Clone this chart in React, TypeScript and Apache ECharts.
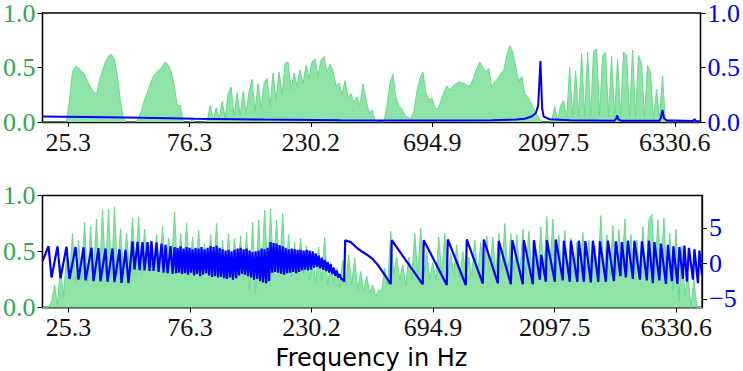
import React, { useEffect, useRef } from "react";
import * as echarts from "echarts";

// x ticks (Hz) and their labels
const tickHz = [25.3, 76.3, 230.2, 694.9, 2097.5, 6330.6];
const tickLabels = ["25.3", "76.3", "230.2", "694.9", "2097.5", "6330.6"];
const xMinHz = 20;
const xMaxHz = 8000;

// frequency grid (Hz) shared by both magnitude spectra
const gridHz = [
  20.0, 20.55, 21.12, 21.71, 22.31, 22.92, 23.55, 24.2, 24.87, 25.56,
  26.27, 27.0, 27.74, 28.51, 29.3, 30.11, 30.94, 31.79, 32.67, 33.57,
  34.5, 35.45, 36.43, 37.44, 38.47, 39.53, 40.62, 41.75, 42.9, 44.08,
  45.3, 46.57, 47.86, 49.18, 50.54, 51.94, 53.37, 54.85, 56.36, 57.92,
  59.52, 61.18, 62.87, 64.61, 66.39, 68.23, 70.11, 72.05, 74.04, 76.09,
  78.19, 80.35, 82.57, 84.85, 87.2, 89.61, 92.08, 94.63, 97.24, 99.93,
  102.7, 105.5, 108.4, 111.4, 114.5, 117.7, 120.9, 124.3, 127.7, 131.2,
  134.8, 138.6, 142.4, 146.4, 150.4, 154.6, 158.8, 163.2, 167.7, 172.4,
  177.2, 182.1, 187.1, 192.3, 197.6, 203.0, 208.6, 214.4, 220.3, 226.4,
  232.7, 239.2, 245.8, 252.6, 259.6, 266.8, 274.2, 281.8, 289.6, 297.6,
  305.8, 314.2, 322.9, 331.8, 341.0, 350.4, 360.1, 370.0, 380.3, 390.8,
  401.6, 412.8, 424.2, 435.9, 448.0, 460.4, 473.1, 486.2, 499.6, 513.4,
  527.6, 542.3, 557.3, 572.7, 588.5, 604.8, 621.5, 638.7, 656.3, 674.4,
  693.1, 712.3, 732.0, 752.2, 773.0, 794.4, 816.3, 838.9, 862.1, 885.9,
  910.4, 935.4, 961.3, 987.9, 1015, 1043, 1072, 1102, 1132, 1163,
  1196, 1229, 1263, 1298, 1334, 1371, 1409, 1448, 1488, 1529,
  1571, 1614, 1659, 1705, 1752, 1800, 1850, 1901, 1954, 2008,
  2063, 2120, 2179, 2239, 2301, 2364, 2430, 2497, 2566, 2637,
  2710, 2785, 2862, 2941, 3022, 3106, 3192, 3280, 3371, 3464,
  3560, 3658, 3759, 3863, 3970, 4080, 4193, 4309, 4428, 4550,
  4676, 4805, 4938, 5075, 5215, 5359, 5507, 5659, 5816, 5977,
  6142, 6312, 6486, 6665, 6850, 7039, 7234, 7434, 7639, 7850, 8000,
];

// top panel: magnitude (left axis)
const topMagnitude = [
  0, 0, 0, 0, 0, 0, 0, 0, 0, 0.2,
  0.46, 0.51, 0.5, 0.46, 0.44, 0.37, 0.32, 0.28, 0.25, 0.38,
  0.47, 0.55, 0.6, 0.62, 0.57, 0.42, 0.2, 0.03, 0, 0,
  0, 0, 0.03, 0.1, 0.2, 0.27, 0.35, 0.42, 0.45, 0.48,
  0.51, 0.55, 0.52, 0.46, 0.33, 0.15, 0.15, 0, 0, 0,
  0.02, 0, 0, 0, 0, 0.01, 0.15, 0.02, 0.13, 0.03,
  0.19, 0.04, 0.26, 0.32, 0.05, 0.27, 0.06, 0.28, 0.08, 0.28,
  0.39, 0.1, 0.35, 0.12, 0.36, 0.4, 0.15, 0.45, 0.2, 0.46,
  0.25, 0.54, 0.55, 0.3, 0.45, 0.33, 0.48, 0.35, 0.52, 0.4,
  0.55, 0.58, 0.42, 0.57, 0.6, 0.45, 0.53, 0.47, 0.33, 0.36,
  0.25, 0.38, 0.22, 0.26, 0.18, 0.23, 0.15, 0.35, 0.21, 0.08,
  0.11, 0.02, 0, 0, 0, 0.15, 0.35, 0.44, 0.22, 0.15,
  0.12, 0.06, 0.04, 0.03, 0.1, 0.28, 0.4, 0.46, 0.27, 0.2,
  0.22, 0.13, 0.12, 0.19, 0.27, 0.33, 0.29, 0.33, 0.35, 0.37,
  0.36, 0.35, 0.33, 0.34, 0.41, 0.49, 0.55, 0.5, 0.46, 0.49,
  0.32, 0.37, 0.4, 0.44, 0.48, 0.61, 0.7, 0.64, 0.5, 0.37,
  0.42, 0.26, 0.23, 0.18, 0.12, 0.07, 0.02, 0, 0, 0,
  0.01, 0.14, 0.02, 0.15, 0.2, 0.03, 0.5, 0.05, 0.47, 0.05,
  0.63, 0.06, 0.64, 0.06, 0.65, 0.67, 0.06, 0.61, 0.64, 0.05,
  0.6, 0.05, 0.58, 0.06, 0.64, 0.61, 0.05, 0.66, 0.05, 0.61,
  0.53, 0.04, 0.52, 0.45, 0.03, 0.3, 0.03, 0.42, 0, 0,
  0, 0, 0, 0, 0, 0, 0, 0, 0, 0, 0,
];

// bottom panel: magnitude (left axis)
const bottomMagnitude = [
  0, 0, 0, 0.05, 0.2, 0.02, 0.38, 0.1, 0.45, 0.25,
  0.66, 0.22, 0.6, 0.25, 0.76, 0.23, 0.72, 0.3, 0.79, 0.26,
  0.87, 0.3, 0.88, 0.28, 0.9, 0.3, 0.7, 0.32, 0.66, 0.34,
  0.8, 0.35, 0.81, 0.3, 0.7, 0.38, 0.6, 0.33, 0.65, 0.36,
  0.72, 0.35, 0.62, 0.4, 0.85, 0.3, 0.66, 0.35, 0.75, 0.32,
  0.63, 0.3, 0.69, 0.36, 0.57, 0.3, 0.65, 0.34, 0.75, 0.32,
  0.6, 0.28, 0.66, 0.3, 0.62, 0.28, 0.64, 0.25, 0.67, 0.15,
  0.76, 0.12, 0.78, 0.3, 0.87, 0.35, 0.88, 0.3, 0.78, 0.32,
  0.84, 0.3, 0.65, 0.28, 0.58, 0.3, 0.62, 0.3, 0.55, 0.25,
  0.45, 0.22, 0.54, 0.24, 0.63, 0.2, 0.4, 0.22, 0.35, 0.18,
  0.42, 0.2, 0.47, 0.2, 0.44, 0.16, 0.32, 0.15, 0.28, 0.13,
  0.2, 0.1, 0.16, 0.14, 0.35, 0.2, 0.68, 0.3, 0.45, 0.25,
  0.38, 0.2, 0.45, 0.25, 0.66, 0.3, 0.71, 0.28, 0.5, 0.25,
  0.4, 0.25, 0.63, 0.3, 0.66, 0.28, 0.48, 0.3, 0.56, 0.27,
  0.5, 0.3, 0.45, 0.28, 0.6, 0.3, 0.58, 0.3, 0.64, 0.32,
  0.63, 0.3, 0.66, 0.33, 0.75, 0.3, 0.66, 0.32, 0.65, 0.3,
  0.7, 0.3, 0.68, 0.32, 0.6, 0.3, 0.72, 0.3, 0.81, 0.32,
  0.79, 0.3, 0.65, 0.28, 0.69, 0.3, 0.62, 0.28, 0.58, 0.3,
  0.67, 0.3, 0.6, 0.27, 0.55, 0.3, 0.82, 0.3, 0.65, 0.28,
  0.73, 0.3, 0.7, 0.3, 0.79, 0.28, 0.65, 0.3, 0.6, 0.3,
  0.72, 0.28, 0.78, 0.83, 0.3, 0.78, 0.28, 0.8, 0.25, 0.66,
  0.15, 0.7, 0.05, 0.55, 0.1, 0.3, 0, 0.25, 0, 0, 0,
];

// top panel: blue curve (right axis)
const topLineHz = [
  20, 30, 50, 80, 150, 300, 700, 1200, 1500, 1614, 1716, 1784, 1825, 1862,
  1893, 1918, 2026, 2430, 3658, 3708, 3749, 3793, 3898, 5507, 5582, 5659,
  5737, 5869, 7468, 7570, 7674, 8000,
];
const topLineValues = [
  0.05, 0.045, 0.038, 0.03, 0.022, 0.016, 0.013, 0.015, 0.022, 0.03, 0.05, 0.08, 0.15, 0.56,
  0.12, 0.05, 0.025, 0.015, 0.012, 0.03, 0.06, 0.02, 0.012, 0.012, 0.04, 0.11,
  0.035, 0.015, 0.01, 0.025, 0.01, 0.005,
];

// bottom panel: blue curve (right axis)
const bottomLineHz = [
  20.0, 21.12, 21.71, 22.92, 23.55, 24.87, 25.56, 27.0, 27.74, 29.03, 29.57, 31.22,
  31.79, 33.27, 33.88, 35.45, 36.1, 37.78, 38.47, 40.26, 40.99, 42.52, 43.69,
  45.3, 46.13, 47.43, 48.3, 49.63, 50.54, 51.94, 52.89, 53.86, 54.85, 56.36, 57.39,
  58.98, 60.06, 61.18, 62.3, 64.02, 65.2,
  66.39, 67.3, 68.23, 69.16, 70.11, 71.07, 72.05, 73.04, 74.04, 75.05,
  76.09, 77.13, 78.19, 79.26, 80.35, 81.45, 82.57, 83.7, 84.85, 86.01,
  87.2, 88.39, 89.61, 90.84, 92.08, 93.34, 94.63, 95.93, 97.24, 98.57,
  99.93, 101.3, 102.7, 104.1, 105.5, 106.9, 108.4, 109.9, 111.4, 112.9,
  114.5, 116.1, 117.7, 119.3, 120.9, 122.6, 124.3, 126.0, 127.7, 129.4,
  131.2, 133.0, 134.8, 136.6, 138.6, 140.5, 142.4, 144.4, 146.4, 148.4,
  150.4, 152.5, 154.6, 156.7, 158.8, 161.0, 163.2, 165.4, 167.7, 170.0,
  172.4, 174.8, 177.2, 179.6, 182.1, 184.6, 187.1, 189.7, 192.3, 194.9,
  197.6, 200.3, 203.0, 205.8, 208.6, 211.5, 214.4, 217.3, 220.3, 223.3,
  226.4, 229.5, 232.7, 235.9, 239.2, 242.5, 245.8, 249.2, 252.6, 256.1,
  259.6, 263.2, 266.8, 270.5, 274.2, 278.0, 281.8, 285.7, 289.6, 293.6,
  297.6, 301.7, 305.8, 310.0,
  312.8, 328.8, 350.4, 366.7, 383.8, 401.6, 420.4, 443.9, 473.1, 477.4,
  632.9, 638.7, 787.2, 794.4, 935.4, 943.9, 1092, 1102, 1252, 1263,
  1409, 1428, 1571, 1585, 1721, 1736, 1833, 1858, 1936, 1954,
  2101, 2120, 2259, 2280, 2407, 2430, 2578, 2613, 2735, 2772,
  2915, 2968, 3120, 3163, 3340, 3402, 3592, 3658, 3810, 3863,
  4006, 4080, 4270, 4329, 4550, 4634, 4849, 4938, 5121, 5192,
  5432, 5507, 5763, 5869, 6087, 6170, 6398, 6516, 6726, 6818,
  6976, 7103, 7367, 7468, 7709, 7814, 8000,
];
const bottomLineValues = [
  0.3, 2.43, -2.0, 2.4, -2.1, 2.35, -2.2, 2.3, -2.3, 2.25, -2.4, 2.2,
  -2.5, 2.15, -2.55, 2.1, -2.6, 2.1, -2.65, 2.0, -2.75, 1.9, -2.8,
  3.1, -0.9, 3.05, -0.95, 3.0, -1.0, 3.0, -1.05, 3.1, -1.05, 2.95, -1.2,
  2.8, -1.3, 2.6, -1.4, 2.45, -1.5,
  2.3, -1.4, 2.2, -1.3, 2.4, -1.5, 2.1, -1.4, 2.3, -1.6,
  2.2, -1.3, 2.0, -1.7, 2.2, -1.5, 2.1, -1.8, 2.3, -1.6,
  2.0, -1.4, 2.2, -1.7, 2.4, -1.9, 2.3, -1.8, 2.5, -2.0,
  2.2, -1.9, 2.0, -2.1, 1.8, -2.2, 1.9, -2.0, 1.7, -2.3,
  1.9, -2.1, 2.1, -1.7, 2.2, -1.5, 2.0, -1.6, 2.1, -1.8,
  1.8, -2.0, 1.6, -2.3, 1.7, -2.2, 1.8, -2.5, 2.1, -2.7,
  2.0, -2.8, 2.2, -2.5, 3.0, -1.3, 2.9, -1.2, 2.8, -1.3,
  2.6, -1.5, 2.4, -1.6, 2.2, -1.4, 2.0, -1.3, 2.1, -1.2,
  2.0, -1.4, 1.9, -1.2, 1.9, -1.0, 1.8, -0.9, 1.9, -1.0,
  1.8, -0.9, 1.7, -0.6, 1.4, -0.5, 1.1, -0.7, 0.8, -0.9,
  0.5, -1.1, 0.2, -1.3, -0.1, -1.5, -0.6, -1.75, -1.0, -2.0,
  -1.5, -2.25, -2.2, -2.6,
  3.27, 3.0, 2.1, 1.6, 1.15, 0.6, -0.2, -1.4, -2.95, 3.27,
  -2.95, 3.27, -3.05, 3.37, -3.05, 3.37, -2.85, 3.37, -2.8, 3.15,
  -2.95, 3.27, -2.95, 3.27, -2.95, 3.27, -2.3, 1.2, -2.6, 3.27,
  -2.6, 3.37, -2.4, 3.2, -2.6, 3.2, -2.6, 3.2, -2.6, 3.15,
  -2.7, 3.2, -2.6, 3.1, -2.6, 3.2, -2.5, 3.1, -1.8, 3.0,
  -2.0, 3.2, -2.2, 3.2, -2.3, 3.1, -2.4, 3.2, -2.8, 3.0,
  -2.4, 2.8, -2.9, 2.6, -2.5, 2.4, -2.9, 2.3, -2.2, 2.5,
  -2.6, 2.2, -2.3, 2.0, -2.8, 1.8, -1.7,
];

const magTicks = [0, 0.5, 1];
const phaseTicks = [-5, 0, 5];
const phaseMin = -6.23;
const phaseMax = 9.58;

const GREEN_FILL = "#8ee3a7";
const GREEN_LINE = "#68d98a";
const GREEN_TEXT = "#2fa84f";
const BLUE = "#0000ff";
const TICK_FONT = "'Liberation Serif', 'Times New Roman', serif";

export default function App() {
  const ref = useRef<HTMLDivElement>(null);

  useEffect(() => {
    if (!ref.current) return;
    const chart = echarts.init(ref.current, null, { renderer: "svg" });
    const lg = (f: number) => Math.log10(f);
    const tickLog = tickHz.map(lg);
    const xLabel = (v: number) => {
      let best = 0;
      for (let i = 1; i < tickLog.length; i++) {
        if (Math.abs(tickLog[i] - v) < Math.abs(tickLog[best] - v)) best = i;
      }
      return tickLabels[best];
    };
    const minus = (v: number) => (v < 0 ? "\u2212" + Math.abs(v) : String(v));

    const xAxisFor = (gi: number) => ({
      type: "value",
      gridIndex: gi,
      min: lg(xMinHz),
      max: lg(xMaxHz),
      axisLine: { show: true, lineStyle: { color: "#000", width: 1.3 } },
      axisTick: { show: true, customValues: tickLog, length: 5, lineStyle: { color: "#000", width: 1 } },
      axisLabel: {
        customValues: tickLog,
        formatter: xLabel,
        fontFamily: TICK_FONT,
        fontSize: 26,
        color: "#111",
        margin: 7,
      },
      splitLine: { show: false },
    });

    const magAxis = (gi: number, pos: string, color: string) => ({
      type: "value",
      gridIndex: gi,
      position: pos,
      min: 0,
      max: 1,
      axisLine: { show: true, lineStyle: { color: "#000", width: 1.3 } },
      axisTick: { show: true, customValues: magTicks, length: 5, lineStyle: { color: "#000", width: 1 } },
      axisLabel: {
        customValues: magTicks,
        formatter: (v: number) => v.toFixed(1),
        fontFamily: TICK_FONT,
        fontSize: 26,
        color,
        margin: 7,
      },
      splitLine: { show: false },
    });

    chart.setOption({
      animation: false,
      backgroundColor: "#fff",
      grid: [
        { left: 42, top: 10, width: 660, height: 112, show: true, borderColor: "#000", borderWidth: 1.3, containLabel: false },
        { left: 42, top: 195.5, width: 660, height: 112, show: true, borderColor: "#000", borderWidth: 1.3, containLabel: false },
      ],
      xAxis: [xAxisFor(0), xAxisFor(1)],
      yAxis: [
        magAxis(0, "left", GREEN_TEXT),
        magAxis(0, "right", BLUE),
        magAxis(1, "left", GREEN_TEXT),
        {
          type: "value",
          gridIndex: 1,
          position: "right",
          min: phaseMin,
          max: phaseMax,
          axisLine: { show: true, lineStyle: { color: "#000", width: 1.3 } },
          axisTick: { show: true, customValues: phaseTicks, length: 5, lineStyle: { color: "#000", width: 1 } },
          axisLabel: {
            customValues: phaseTicks,
            formatter: minus,
            fontFamily: TICK_FONT,
            fontSize: 26,
            color: BLUE,
            margin: 7,
          },
          splitLine: { show: false },
        },
      ],
      series: [
        {
          type: "line",
          xAxisIndex: 0,
          yAxisIndex: 0,
          data: gridHz.map((f, i) => [lg(f), topMagnitude[i]]),
          showSymbol: false,
          lineStyle: { color: GREEN_LINE, width: 1 },
          areaStyle: { color: GREEN_FILL, opacity: 1 },
          z: 2,
        },
        {
          type: "line",
          xAxisIndex: 0,
          yAxisIndex: 1,
          data: topLineHz.map((f, i) => [lg(f), topLineValues[i]]),
          showSymbol: false,
          lineStyle: { color: BLUE, width: 2 },
          z: 3,
        },
        {
          type: "line",
          xAxisIndex: 1,
          yAxisIndex: 2,
          data: gridHz.map((f, i) => [lg(f), bottomMagnitude[i]]),
          showSymbol: false,
          lineStyle: { color: GREEN_LINE, width: 1 },
          areaStyle: { color: GREEN_FILL, opacity: 1 },
          z: 2,
        },
        {
          type: "line",
          xAxisIndex: 1,
          yAxisIndex: 3,
          data: bottomLineHz.map((f, i) => [lg(f), bottomLineValues[i]]),
          showSymbol: false,
          lineStyle: { color: BLUE, width: 2.2 },
          z: 3,
        },
      ],
      graphic: [
        {
          type: "text",
          left: "center",
          top: 346,
          style: {
            text: "Frequency in Hz",
            fontFamily: "DejaVu Sans",
            fontSize: 24,
            fill: "#000",
          },
        },
      ],
    });
    return () => chart.dispose();
  }, []);

  return (
    <div
      ref={ref}
      style={{ position: "fixed", left: 0, top: 0, width: 743, height: 371, background: "#fff" }}
    />
  );
}
